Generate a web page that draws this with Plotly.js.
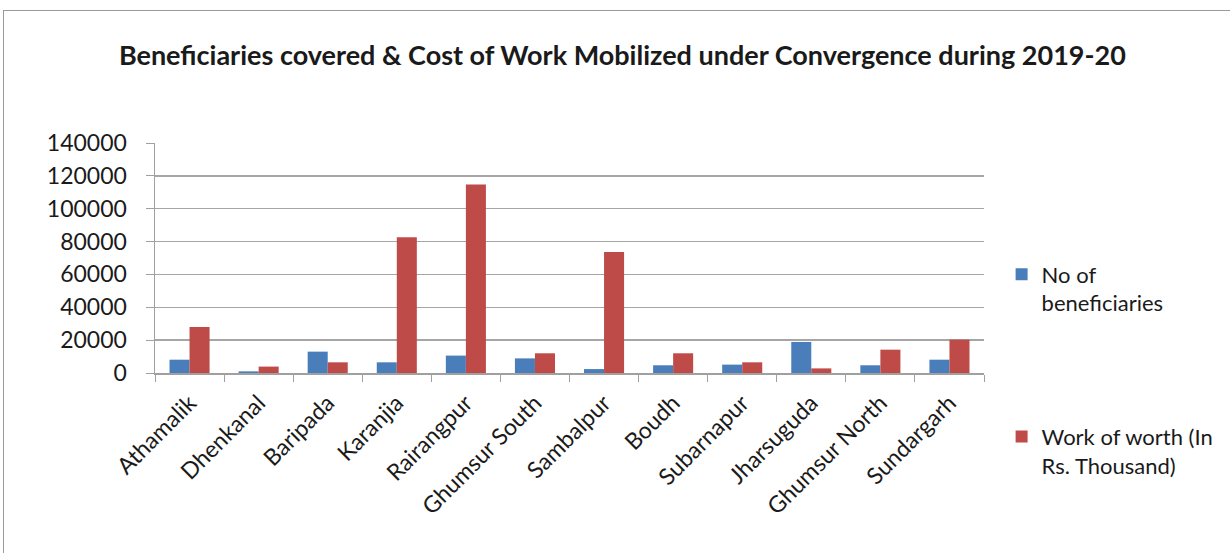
<!DOCTYPE html>
<html><head><meta charset="utf-8">
<script src="https://cdn.plot.ly/plotly-3.0.1.min.js"></script>
<style>
html,body{margin:0;padding:0;background:#fff;overflow:hidden;}
#frame{position:absolute;left:3px;top:10px;width:1400px;height:700px;border-left:1.5px solid #9a9a9a;border-top:1.5px solid #9a9a9a;}
#chart{position:absolute;left:0;top:0;width:1230px;height:553px;}
</style></head><body>
<div id="frame"></div>
<div id="chart"></div>
<script>
const categories = ["Athamalik","Dhenkanal","Baripada","Karanjia","Rairangpur","Ghumsur South","Sambalpur","Boudh","Subarnapur","Jharsuguda","Ghumsur North","Sundargarh"];
const beneficiaries = [8100, 1000, 13000, 6500, 10600, 8900, 2400, 4700, 5100, 18900, 4700, 8100];
const workWorth = [28000, 3900, 6500, 82600, 114800, 12000, 73600, 12000, 6500, 2800, 14200, 20300];
const yTicks = [0,20000,40000,60000,80000,100000,120000,140000];

const font = "Lato, 'Open Sans', sans-serif";
const traces = [
  {type:'bar', x:categories, y:beneficiaries, name:'No of<br>beneficiaries', marker:{color:'#4a7ebb'}, legendgroup:'a'},
  {type:'bar', x:categories, y:workWorth, name:'Work of worth (In<br>Rs. Thousand)', marker:{color:'#be4b48'}, legendgroup:'b'}
];
const layout = {
  width:1230, height:553,
  paper_bgcolor:'rgba(0,0,0,0)', plot_bgcolor:'rgba(0,0,0,0)',
  margin:{l:155, r:245, t:143, b:180},
  title:{text:'<b>Beneficiaries covered & Cost of Work Mobilized under Convergence during 2019-20</b>', x:0.506, xanchor:'center', y:0.9, yanchor:'middle', font:{family:font, size:27, color:'#1a1a1a'}},
  barmode:'group', bargap:0.42, bargroupgap:0,
  xaxis:{type:'category', tickangle:-45, ticks:'outside', ticklen:7, tickcolor:'#a0a0a0', tickson:'boundaries', ticklabelstandoff:6, showline:true, linecolor:'#a0a0a0', linewidth:1.5, tickfont:{family:font, size:23, color:'#1a1a1a'}, showgrid:false},
  yaxis:{range:[0,140000], tickvals:yTicks, ticktext:yTicks.map(String), ticks:'outside', ticklen:8, tickcolor:'#a0a0a0', ticklabelstandoff:14, showline:true, linecolor:'#a0a0a0', linewidth:1.5, gridcolor:'#a6a6a6', gridwidth:1.5, tickfont:{family:font, size:23, color:'#1a1a1a'}, zeroline:false},
  legend:{x:1.02, xanchor:'left', y:0.52, yanchor:'top', font:{family:font, size:22, color:'#1a1a1a'}, tracegroupgap:102, traceorder:'grouped', valign:'top'},
  showlegend:true
};
Plotly.newPlot('chart', traces, layout, {displayModeBar:false, staticPlot:true});
</script>
</body></html>
